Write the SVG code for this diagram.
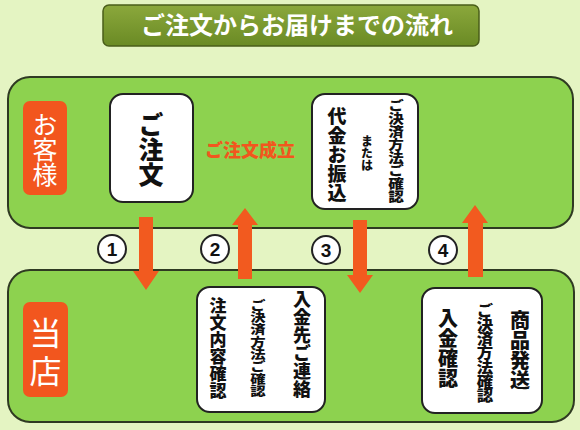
<svg xmlns="http://www.w3.org/2000/svg" width="580" height="430" viewBox="0 0 580 430">
<defs>
<linearGradient id="tg" x1="0" y1="0" x2="0" y2="1">
<stop offset="0" stop-color="#8ba83c"/>
<stop offset="1" stop-color="#6a8a24"/>
</linearGradient>
<style>
.panel{fill:#8dd24f;stroke:#2f3a22;stroke-width:2}
.tag{fill:#f2561e}
.box{fill:#fff;stroke:#222;stroke-width:2}
.arr{fill:#f25a1f}
.num{fill:#fff;stroke:#222;stroke-width:2}
.jp{font-family:"Noto Sans CJK JP","Noto Sans CJK SC",sans-serif}
.v{writing-mode:vertical-rl}
.b{font-weight:900;fill:#111}
.numt{font-family:"Liberation Sans","DejaVu Sans",sans-serif;font-weight:bold;font-size:19px;fill:#111;text-anchor:middle}
</style>
</defs>
<rect width="580" height="430" fill="#e4f4c2"/>
<g id="title">
<rect x="103" y="5" width="376" height="41" rx="6" fill="url(#tg)" stroke="#4a5e1a" stroke-width="1.5"/>
<text x="297" y="34" class="jp" font-size="24" font-weight="bold" fill="#fff" text-anchor="middle">ご注文からお届けまでの流れ</text>
</g>
<g id="panel-customer">
<rect class="panel" x="8" y="77" width="565" height="151" rx="22"/>
<rect class="tag" x="23" y="101" width="44" height="94" rx="7"/>
<text x="45" y="112" class="jp v" font-size="25" fill="#fff">お客様</text>
</g>
<g id="panel-shop">
<rect class="panel" x="8" y="270" width="566" height="152" rx="22"/>
<rect class="tag" x="23" y="302" width="45" height="95" rx="7"/>
<text x="45.5" y="317" class="jp v" font-size="32" letter-spacing="6" fill="#fff">当店</text>
</g>
<g id="node-order">
<rect class="box" x="110" y="94" width="83" height="108" rx="13"/>
<text x="151" y="112" class="jp v b" font-size="25">ご注文</text>
</g>
<g id="label-established">
<text x="250" y="157" class="jp" font-size="18" font-weight="900" fill="#f2561e" text-anchor="middle">ご注文成立</text>
</g>
<g id="node-payment">
<rect class="box" x="312" y="94" width="106" height="115" rx="13"/>
<text x="396" y="99" class="jp v b" font-size="13" transform="translate(396 0) scale(1.2 1) translate(-396 0)">ご決済方法ご確認</text>
<text x="367" y="135" class="jp v b" font-size="12">または</text>
<text x="337" y="107" class="jp v b" font-size="19">代金お振込</text>
</g>
<g id="node-confirm">
<rect class="box" x="197" y="287" width="128" height="125" rx="13"/>
<text x="302" y="290" class="jp v b" font-size="18">入金先ご連絡</text>
<text x="258" y="299" class="jp v b" font-size="12.3" transform="translate(258 0) scale(1.25 1) translate(-258 0)">ご決済方法ご確認</text>
<text x="218" y="297" class="jp v b" font-size="17">注文内容確認</text>
</g>
<g id="node-ship">
<rect class="box" x="422" y="288" width="120" height="125" rx="13"/>
<text x="520" y="310" class="jp v b" font-size="20">商品発送</text>
<text x="485" y="303" class="jp v b" font-size="14.3" transform="translate(485 0) scale(1.15 1) translate(-485 0)">ご決済方法確認</text>
<text x="448" y="308" class="jp v b" font-size="20">入金確認</text>
</g>
<g id="connectors">
<polygon class="arr" points="139,217 153,217 153,271 159,271 146,290 133,271 139,271"/>
<polygon class="arr" points="238,279 252,279 252,225 258,225 245,208 232,225 238,225"/>
<polygon class="arr" points="353,220 367,220 367,275 373,275 360,293 347,275 353,275"/>
<polygon class="arr" points="468,277 483,277 483,223 488,223 475,205 462,223 468,223"/>
<circle class="num" cx="112" cy="249" r="14"/>
<text class="numt" x="112" y="256">1</text>
<circle class="num" cx="215" cy="249" r="14"/>
<text class="numt" x="215" y="256">2</text>
<circle class="num" cx="326" cy="250" r="14"/>
<text class="numt" x="326" y="257">3</text>
<circle class="num" cx="443" cy="250" r="14"/>
<text class="numt" x="443" y="257">4</text>
</g>
</svg>
